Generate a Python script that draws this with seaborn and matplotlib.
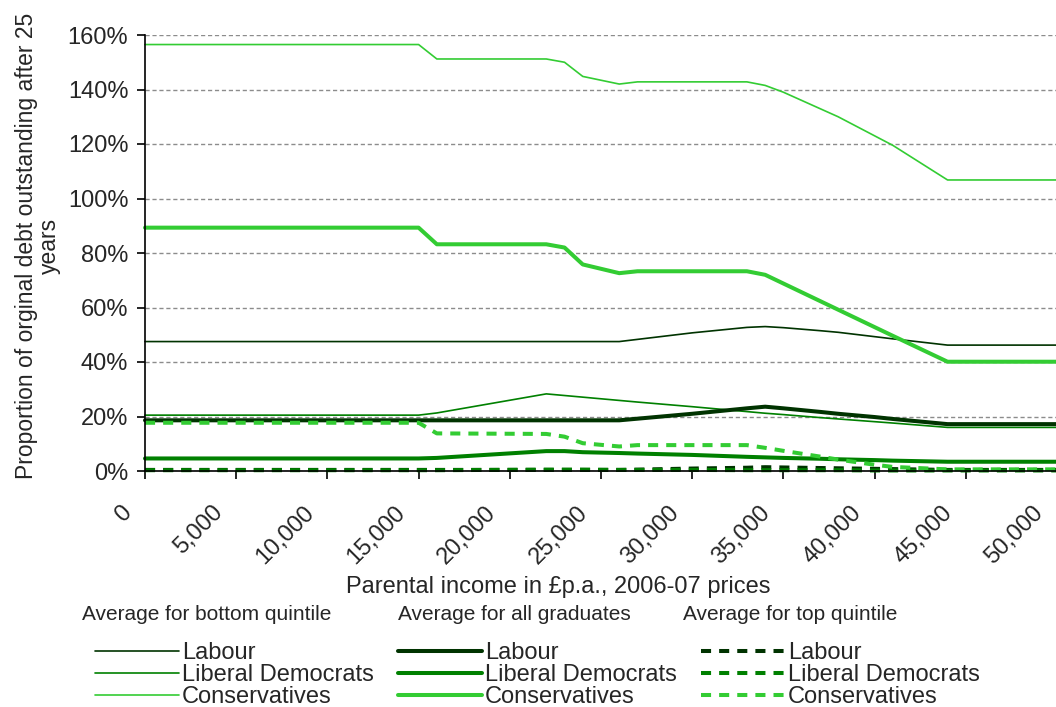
import numpy as np
import pandas as pd
import matplotlib
matplotlib.use("Agg")
import matplotlib.pyplot as plt
import matplotlib.ticker as mticker
from matplotlib.transforms import ScaledTranslation
import seaborn as sns

# parental income breakpoints (GBP p.a., 2006-07 prices)
income = [0, 15000, 16000, 22000, 23000, 24000, 26000, 27000, 30000, 33000,
          34000, 35000, 37000, 38000, 40000, 41000, 44000, 50000]

# proportion of original debt outstanding after 25 years (%)
lab_bottom = [47.5, 47.5, 47.5, 47.5, 47.5, 47.5, 47.5, 48.3, 50.7, 52.7,
              53.0, 52.6, 51.5, 50.9, 49.3, 48.5, 46.2, 46.2]
ld_bottom = [20.5, 20.5, 21.3, 28.3, 27.7, 27.1, 25.9, 25.3, 23.6, 21.8,
             21.2, 20.7, 19.6, 19.1, 18.1, 17.6, 16.0, 16.0]
con_bottom = [156.5, 156.5, 151.2, 151.2, 150.0, 144.8, 142.0, 142.8, 142.8, 142.8,
              141.5, 139.0, 133.0, 130.0, 123.0, 119.5, 106.8, 106.8]

lab_all = [18.6, 18.6, 18.6, 18.6, 18.6, 18.6, 18.6, 19.2, 21.0, 23.0,
           23.6, 23.0, 21.7, 21.0, 19.8, 19.1, 17.2, 17.2]
ld_all = [4.6, 4.6, 4.8, 7.3, 7.3, 6.9, 6.6, 6.4, 5.9, 5.2,
          5.0, 4.8, 4.5, 4.3, 4.0, 3.8, 3.4, 3.4]
con_all = [89.3, 89.3, 83.2, 83.2, 82.0, 75.8, 72.6, 73.3, 73.3, 73.3,
           72.0, 68.8, 62.4, 59.2, 52.8, 49.6, 40.1, 40.1]

lab_top = [0.4, 0.4, 0.4, 0.4, 0.4, 0.4, 0.4, 0.5, 0.9, 1.2,
           1.4, 1.3, 1.1, 1.0, 0.8, 0.7, 0.4, 0.4]
ld_top = [0.3, 0.3, 0.3, 0.5, 0.5, 0.5, 0.4, 0.4, 0.4, 0.3,
          0.3, 0.3, 0.3, 0.3, 0.2, 0.2, 0.2, 0.2]
con_top = [17.7, 17.7, 13.8, 13.6, 12.6, 10.2, 9.0, 9.5, 9.5, 9.5,
           8.5, 7.4, 5.3, 4.2, 2.3, 1.5, 0.6, 0.6]

parties = ["Labour", "Liberal Democrats", "Conservatives"]
groups = ["Average for bottom quintile", "Average for all graduates", "Average for top quintile"]
series = {
    groups[0]: [lab_bottom, ld_bottom, con_bottom],
    groups[1]: [lab_all, ld_all, con_all],
    groups[2]: [lab_top, ld_top, con_top],
}

colors = {"Labour": "#003300", "Liberal Democrats": "#008000", "Conservatives": "#33cc33"}
widths = {groups[0]: 1.2, groups[1]: 2.9, groups[2]: 2.9}
dashes = {groups[0]: None, groups[1]: None, groups[2]: (2.5, 2.0)}

sns.set_style("white")
plt.rcParams["font.family"] = ["Liberation Sans", "DejaVu Sans"]

fig = plt.figure(figsize=(10.56, 7.07), dpi=100)
ax = fig.add_axes([145 / 1056, 1 - 471 / 707, 912 / 1056, 436 / 707])

handles = {}
for g in groups:
    handles[g] = []
    for p, vals in zip(parties, series[g]):
        sns.lineplot(x=income, y=vals, color=colors[p], lw=widths[g], ax=ax,
                     clip_on=False, legend=False)
        line = ax.lines[-1]
        if dashes[g] is not None:
            line.set_dashes(dashes[g])
        handles[g].append(line)

ax.set_xlim(0, 50000)
ax.set_ylim(0, 160)
ax.set_xticks(np.arange(0, 50001, 5000))
ax.set_yticks(np.arange(0, 161, 20))
ax.xaxis.set_major_formatter(mticker.FuncFormatter(lambda v, pos: f"{v:,.0f}"))
ax.yaxis.set_major_formatter(mticker.PercentFormatter(100, decimals=0))

ax.grid(axis="y", color="#8c8c8c", ls=(0, (3, 2)), lw=1.0)
ax.grid(axis="x", visible=False)
for s in ["top", "right"]:
    ax.spines[s].set_visible(False)
for s in ["left", "bottom"]:
    ax.spines[s].set_color("black")
    ax.spines[s].set_linewidth(1.2)

ax.tick_params(axis="both", which="major", direction="out", length=6, width=1.2,
               color="black", labelsize=17, left=True, bottom=True)
ax.tick_params(axis="y", pad=6)
ax.tick_params(axis="x", pad=16)
for lbl in ax.get_xticklabels():
    lbl.set_rotation(45)
    lbl.set_ha("right")
    lbl.set_va("top")
    lbl.set_transform(lbl.get_transform() + ScaledTranslation(-6.5 / 72, 0, fig.dpi_scale_trans))

ax.set_ylabel("")
ax.set_xlabel("")
fig.text(38 / 1056, 1 - 246 / 707, "Proportion of orginal debt outstanding after 25\nyears",
         rotation=90, ha="center", va="center", multialignment="center",
         linespacing=0.98, fontsize=16.5)
fig.text(558 / 1056, 1 - 593 / 707, "Parental income in £p.a., 2006-07 prices",
         ha="center", va="baseline", fontsize=17)

header_x = [82, 398, 683]
legend_x = [95, 398, 701]
for g, hx, lx in zip(groups, header_x, legend_x):
    fig.text(hx / 1056, 1 - 614 / 707, g, ha="left", va="center", fontsize=15)
    fig.legend(handles=handles[g], labels=parties, loc="center left",
               bbox_to_anchor=(lx / 1056, 1 - 675 / 707), frameon=False,
               fontsize=17, handlelength=3.55, handletextpad=0.13,
               labelspacing=0.0, borderpad=0, borderaxespad=0)

fig.savefig("out.png", dpi=100)
